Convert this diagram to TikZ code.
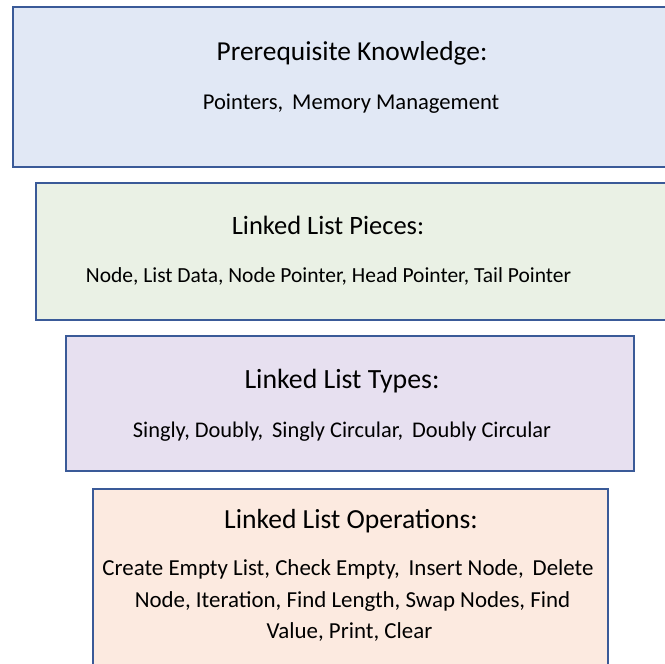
\documentclass[tikz,border=0pt]{standalone}
\usepackage{fontspec}
\setmainfont{Carlito}
\definecolor{edgeblue}{HTML}{3A5A98}
\definecolor{fillblue}{HTML}{E1E8F5}
\definecolor{fillgreen}{HTML}{EAF1E5}
\definecolor{fillpurple}{HTML}{E7E0F0}
\definecolor{fillorange}{HTML}{FCEAE0}
\tikzset{
  layer/.style={draw=edgeblue, line width=2pt},
  headtext/.style={anchor=base, inner sep=0pt, font=\fontsize{#1}{#1}\selectfont},
  headtext/.default=26.5,
  itemtext/.style={anchor=base, inner sep=0pt, font=\fontsize{#1}{#1}\selectfont},
  itemtext/.default=21.5,
}
\begin{document}
\begin{tikzpicture}[x=1pt, y=-1pt]
  \useasboundingbox (0,0) rectangle (665,664);
  \clip (0,0) rectangle (665,664);

  % stacked layers, each one narrower than the one above
  \draw[layer, fill=fillblue]   (13,7)   rectangle (700,167);
  \draw[layer, fill=fillgreen]  (36,183) rectangle (700,320);
  \draw[layer, fill=fillpurple] (66,336) rectangle (634,471);
  \draw[layer, fill=fillorange] (93,489) rectangle (608,700);

  % prerequisites
  \node[headtext=27.4] (preT) at (352,60)  {Prerequisite Knowledge:};
  \node[itemtext=22.6] (preB) at (351,109) {Pointers,\, Memory Management};

  % pieces
  \node[headtext] (pcsT) at (328,234) {Linked List Pieces:};
  \node[itemtext] (pcsB) at (328.5,282) {Node, List Data, Node Pointer, Head Pointer, Tail Pointer};

  % types
  \node[headtext=27.8] (typT) at (342,388) {Linked List Types:};
  \node[itemtext=22.4] (typB) at (342,437) {Singly, Doubly,\, Singly Circular,\, Doubly Circular};

  % operations
  \node[headtext=27.6] (opsT) at (351,528) {Linked List Operations:};
  \node[itemtext=22.9] (ops1) at (348,575) {Create Empty List, Check Empty,\, Insert Node,\, Delete};
  \node[itemtext=22.9] (ops2) at (352.5,607) {Node, Iteration, Find Length, Swap Nodes, Find};
  \node[itemtext=22.9] (ops3) at (349.5,638) {Value, Print, Clear};
\end{tikzpicture}
\end{document}
